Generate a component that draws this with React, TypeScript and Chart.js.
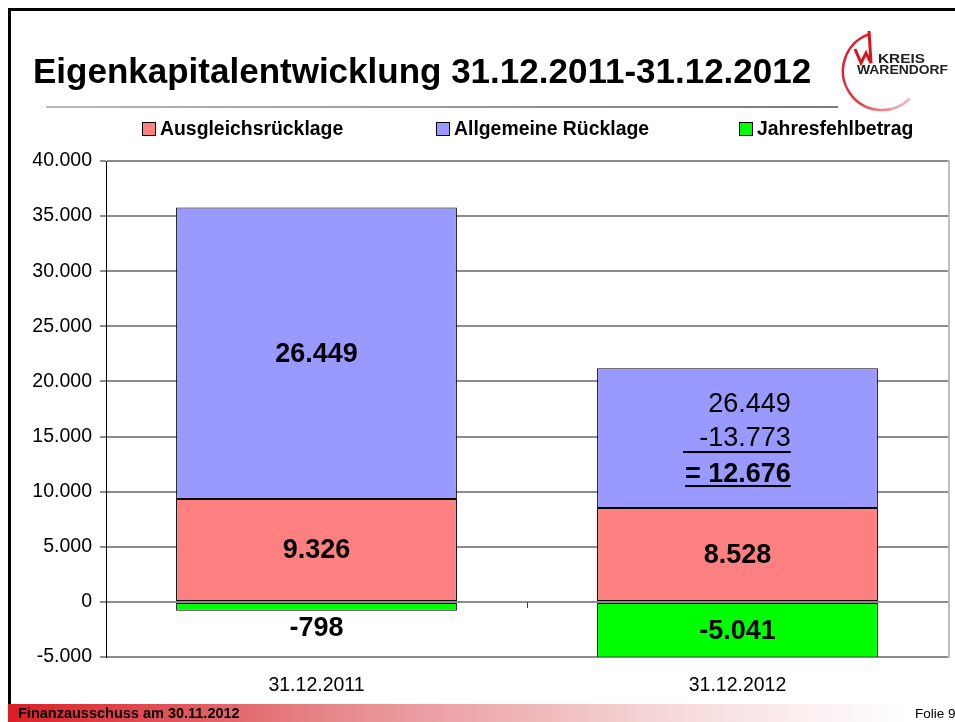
import React, { useEffect, useRef } from 'react';
import { Chart, registerables } from 'chart.js';

Chart.register(...registerables);

// ---- data ----
const categories = ['31.12.2011', '31.12.2012'];
const seriesNames = ['Ausgleichsrücklage', 'Allgemeine Rücklage', 'Jahresfehlbetrag'];
const ausgleichsruecklage = [9326, 8528];
const allgemeineRuecklage = [26449, 12676];
const jahresfehlbetrag = [-798, -5041];
const yMin = -5000;
const yMax = 40000;
const yStep = 5000;
const titleText = 'Eigenkapitalentwicklung 31.12.2011-31.12.2012';
const footerText = 'Finanzausschuss am 30.11.2012';
const slideNumberText = 'Folie 9';

const seriesColors = ['#FF8080', '#9999FF', '#00FF00'];
const FONT = '"Liberation Sans", Arial, Helvetica, sans-serif';

function fmt(n: number): string {
  const s = Math.abs(Math.round(n)).toString().replace(/\B(?=(\d{3})+(?!\d))/g, '.');
  return (n < 0 ? '-' : '') + s;
}

const labelPlugin = {
  id: 'valueLabels',
  afterDatasetsDraw(chart: any) {
    const ctx = chart.ctx as CanvasRenderingContext2D;
    ctx.save();
    ctx.fillStyle = '#000';
    chart.data.datasets.forEach((ds: any, di: number) => {
      const meta = chart.getDatasetMeta(di);
      meta.data.forEach((el: any, i: number) => {
        const p = el.getProps(['x', 'y', 'base', 'width'], true);
        const v = ds.data[i] as number;
        const cy = (p.y + p.base) / 2;
        if (di === 1 && i > 0) {
          const prev = ds.data[i - 1] as number;
          const lines = [fmt(prev), fmt(v - prev), '= ' + fmt(v)];
          const rx = p.x + p.width * 0.19;
          ctx.textAlign = 'right';
          ctx.textBaseline = 'alphabetic';
          ctx.font = `27px ${FONT}`;
          ctx.fillText(lines[0], rx, cy - 26);
          ctx.fillText(lines[1], rx, cy + 7.5);
          ctx.font = `bold 27px ${FONT}`;
          ctx.fillText(lines[2], rx, cy + 44);
          const w = ctx.measureText(lines[2]).width;
          ctx.fillRect(rx - w - 2, cy + 13, w + 2, 2);
          ctx.fillRect(rx - w, cy + 47, w, 2);
          return;
        }
        ctx.textAlign = 'center';
        ctx.textBaseline = 'middle';
        ctx.font = `bold 27px ${FONT}`;
        const h = Math.abs(p.base - p.y);
        const ty = h < 30 ? Math.max(p.y, p.base) + 17 : cy;
        ctx.fillText(fmt(v), p.x, ty + 1);
      });
    });
    ctx.restore();
  },
  afterDraw(chart: any) {
    const ctx = chart.ctx as CanvasRenderingContext2D;
    const xs = chart.scales.x;
    const ys = chart.scales.y;
    const area = chart.chartArea;
    ctx.save();
    // category separator tick on zero line
    const y0 = Math.round(ys.getPixelForValue(0));
    ctx.strokeStyle = '#404040';
    ctx.lineWidth = 1;
    for (let i = 0; i < categories.length - 1; i++) {
      const xm = Math.round((xs.getPixelForValue(i) + xs.getPixelForValue(i + 1)) / 2) + 0.5;
      ctx.beginPath();
      ctx.moveTo(xm, y0);
      ctx.lineTo(xm, y0 + 6);
      ctx.stroke();
    }
    // right plot border
    ctx.strokeStyle = '#c0c0c0';
    ctx.lineWidth = 2;
    ctx.beginPath();
    ctx.moveTo(area.right + 1, area.top - 1);
    ctx.lineTo(area.right + 1, area.bottom + 1);
    ctx.stroke();
    ctx.restore();
  },
};

function ChartCanvas() {
  const ref = useRef<HTMLCanvasElement | null>(null);
  useEffect(() => {
    if (!ref.current) return;
    const chart = new Chart(ref.current, {
      type: 'bar',
      data: {
        labels: categories,
        datasets: [
          { label: seriesNames[0], data: ausgleichsruecklage, backgroundColor: seriesColors[0] },
          { label: seriesNames[1], data: allgemeineRuecklage, backgroundColor: seriesColors[1] },
          { label: seriesNames[2], data: jahresfehlbetrag, backgroundColor: seriesColors[2] },
        ].map((d) => ({
          ...d,
          borderColor: '#000',
          borderWidth: 1,
          borderSkipped: false,
          categoryPercentage: 1,
          barPercentage: 0.667,
        })),
      },
      options: {
        responsive: false,
        animation: false,
        layout: { padding: { top: 21, right: 7, left: 0, bottom: 0 } },
        plugins: {
          legend: { display: false },
          tooltip: { enabled: false },
          title: { display: false },
        },
        scales: {
          x: {
            stacked: true,
            grid: { display: false, drawTicks: false },
            border: { display: false },
            ticks: {
              color: '#000',
              padding: 17,
              font: { family: FONT, size: 19.5 },
            },
            afterFit: (s: any) => {
              s.height = 43;
            },
          },
          y: {
            stacked: true,
            min: yMin,
            max: yMax,
            ticks: {
              stepSize: yStep,
              color: '#000',
              padding: 8,
              font: { family: FONT, size: 19.5 },
              callback: (v: any) => fmt(Number(v)),
            },
            grid: { color: '#8c8c8c', lineWidth: 2, tickLength: 6 },
            border: { display: true, color: '#000', width: 1 },
            afterFit: (s: any) => {
              s.width = 106;
            },
          },
        },
      },
      plugins: [labelPlugin],
    });
    return () => chart.destroy();
  }, []);
  return (
    <canvas
      ref={ref}
      width={955}
      height={560}
      style={{ position: 'absolute', left: 0, top: 140, width: 955, height: 560 }}
    />
  );
}

function Overlay() {
  const legendX = [142, 436, 739];
  return (
    <svg
      width={955}
      height={722}
      style={{ position: 'absolute', left: 0, top: 0, pointerEvents: 'none' }}
      fontFamily={FONT}
    >
      <defs>
        <linearGradient id="footerGrad" x1="0" y1="0" x2="1" y2="0">
          <stop offset="0" stopColor="#da1f27" />
          <stop offset="0.35" stopColor="#e78a8d" />
          <stop offset="0.7" stopColor="#f6d9da" />
          <stop offset="0.95" stopColor="#ffffff" />
        </linearGradient>
        <linearGradient id="ruleGrad" x1="0" y1="0" x2="1" y2="0">
          <stop offset="0" stopColor="#b8b8b8" />
          <stop offset="1" stopColor="#7a7a7a" />
        </linearGradient>
        <linearGradient id="arcGrad" x1="0" y1="0" x2="1" y2="1">
          <stop offset="0" stopColor="#d8141c" />
          <stop offset="0.6" stopColor="#e0454a" />
          <stop offset="1" stopColor="#f7c9ca" />
        </linearGradient>
      </defs>
      {/* slide border */}
      <rect x={8} y={8} width={955} height={3} fill="#000" />
      <rect x={8} y={8} width={3} height={696} fill="#000" />
      {/* title */}
      <text x={33} y={83} fontSize={35} fontWeight="bold" fill="#000">
        {titleText}
      </text>
      <rect x={46} y={106} width={792} height={2} fill="url(#ruleGrad)" />
      {/* logo */}
      <g>
        <path
          d="M 868.7 34.4 A 39 39 0 1 0 909.6 98.6"
          fill="none"
          stroke="url(#arcGrad)"
          strokeWidth={2.5}
        />
        <path
          d="M 855 49 L 861 63 L 866 53 L 871 63 L 869 31"
          fill="none"
          stroke="#d8141c"
          strokeWidth={3}
          strokeLinejoin="miter"
        />
        <text x={878} y={63} fontSize={12} fontWeight="bold" fill="#222" textLength={47} lengthAdjust="spacingAndGlyphs">
          KREIS
        </text>
        <text x={857} y={74} fontSize={12} fontWeight="bold" fill="#222" textLength={91} lengthAdjust="spacingAndGlyphs">
          WARENDORF
        </text>
      </g>
      {/* legend */}
      {seriesNames.map((name, i) => (
        <g key={name}>
          <rect x={legendX[i] + 0.5} y={122.5} width={13} height={13} fill={seriesColors[i]} stroke="#000" strokeWidth={1} />
          <text x={legendX[i] + 18} y={134.5} fontSize={19.4} fontWeight="bold" fill="#000">
            {name}
          </text>
        </g>
      ))}
      {/* footer */}
      <rect x={8} y={704} width={947} height={18} fill="url(#footerGrad)" />
      <text x={18} y={717.5} fontSize={14.5} fontWeight="bold" fill="#000">
        {footerText}
      </text>
      <text x={915} y={717.5} fontSize={13.5} fill="#000">
        {slideNumberText}
      </text>
    </svg>
  );
}

export default function App() {
  return (
    <div
      style={{
        position: 'fixed',
        left: 0,
        top: 0,
        width: 955,
        height: 722,
        overflow: 'hidden',
        background: '#fff',
        fontFamily: FONT,
      }}
    >
      <ChartCanvas />
      <Overlay />
    </div>
  );
}
